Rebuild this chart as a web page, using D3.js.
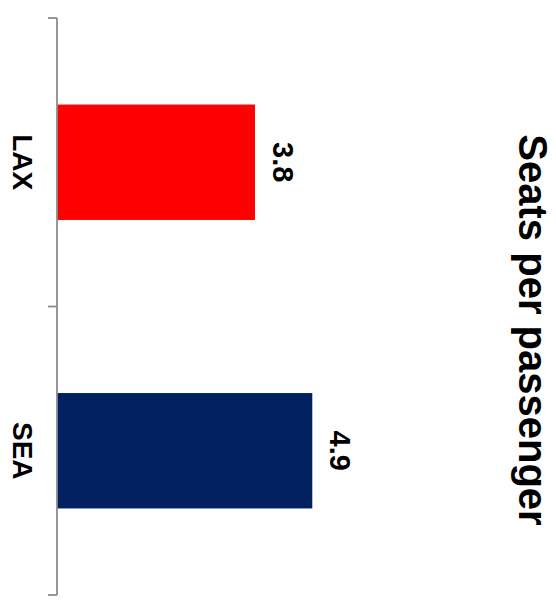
<!DOCTYPE html>
<html>
<head>
<meta charset="utf-8">
<script src="https://cdn.jsdelivr.net/npm/d3@7"></script>
<style>
  html, body { margin: 0; padding: 0; background: #fff; }
  svg { display: block; font-family: "Liberation Sans", Arial, Helvetica, sans-serif; }
</style>
</head>
<body>
<svg id="chart" width="556" height="603"></svg>
<script>
// Seats per passenger by airport (column chart turned on its side)
const categories = ["LAX", "SEA"];
const values = [3.8, 4.9];
const colors = ["#FF0000", "#002060"];
const title = "Seats per passenger";

const svg = d3.select("#chart");

// Category axis runs top to bottom along the left edge
const x = d3.scaleBand()
  .domain(categories)
  .range([18, 595])
  .paddingInner(0.6)
  .paddingOuter(0.3);

// Value axis grows to the right from the category axis
const axisX = 57;
const y = d3.scaleLinear().domain([0, 6]).range([axisX, axisX + 6 * 52.1]);

// Bars
svg.selectAll("rect.bar")
  .data(categories)
  .join("rect")
  .attr("class", "bar")
  .attr("x", y(0))
  .attr("y", d => x(d))
  .attr("width", (d, i) => y(values[i]) - y(0))
  .attr("height", x.bandwidth())
  .attr("fill", (d, i) => colors[i]);

// Category axis line and boundary ticks
const axisColor = "#8c8c8c";
const boundaries = d3.range(categories.length + 1).map(i => x.range()[0] + i * x.step());
svg.append("line")
  .attr("x1", axisX).attr("x2", axisX)
  .attr("y1", x.range()[0]).attr("y2", x.range()[1])
  .attr("stroke", axisColor).attr("stroke-width", 1.8);
svg.selectAll("line.tick")
  .data(boundaries)
  .join("line")
  .attr("class", "tick")
  .attr("x1", axisX - 9).attr("x2", axisX)
  .attr("y1", d => d).attr("y2", d => d)
  .attr("stroke", axisColor).attr("stroke-width", 1.8);

// Category labels, rotated to read downward
svg.selectAll("text.cat")
  .data(categories)
  .join("text")
  .attr("class", "cat")
  .attr("transform", d => `translate(13,${x(d) + x.bandwidth() / 2}) rotate(90)`)
  .attr("text-anchor", "middle")
  .attr("font-size", 28)
  .attr("font-weight", "bold")
  .attr("fill", "#000")
  .text(d => d);

// Value labels just past each bar's end
svg.selectAll("text.val")
  .data(categories)
  .join("text")
  .attr("class", "val")
  .attr("transform", (d, i) => `translate(${y(values[i]) + 18},${x(d) + x.bandwidth() / 2}) rotate(90)`)
  .attr("text-anchor", "middle")
  .attr("font-size", 29)
  .attr("font-weight", "bold")
  .attr("fill", "#000")
  .text((d, i) => values[i].toFixed(1));

// Chart title along the right edge
svg.append("text")
  .attr("transform", "translate(519,330) rotate(90)")
  .attr("text-anchor", "middle")
  .attr("font-size", 40)
  .attr("font-weight", "bold")
  .attr("fill", "#000")
  .text(title);
</script>
</body>
</html>
